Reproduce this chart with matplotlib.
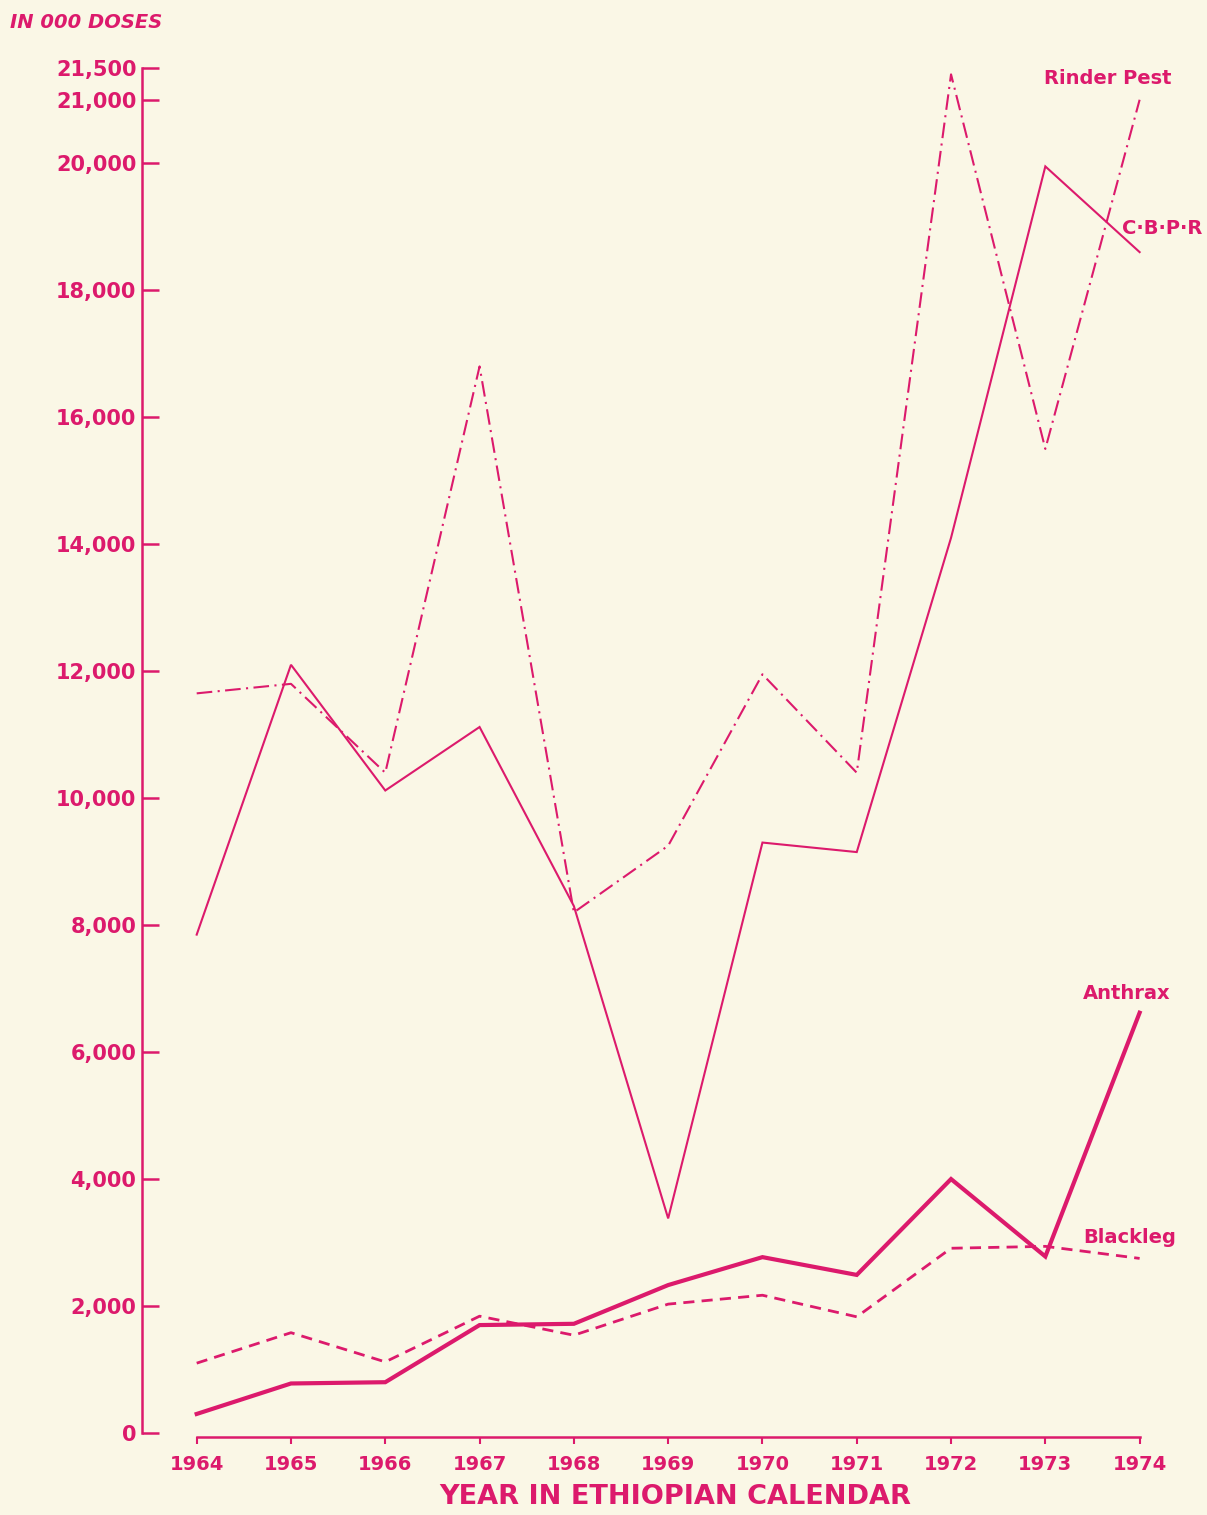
import matplotlib
matplotlib.use("Agg")
import matplotlib.pyplot as plt

# vaccine production, in thousands of doses
years = [1964, 1965, 1966, 1967, 1968, 1969, 1970, 1971, 1972, 1973, 1974]
rinder_pest = [11650, 11800, 10400, 16800, 8200, 9250, 11950, 10400, 21400, 15500, 21000]
cbpp = [7850, 12100, 10120, 11120, 8300, 3380, 9300, 9150, 14100, 19950, 18600]
anthrax = [300, 780, 800, 1700, 1720, 2330, 2770, 2490, 4000, 2780, 6620]
blackleg = [1100, 1580, 1120, 1840, 1540, 2030, 2170, 1830, 2910, 2940, 2750]

ytick_vals = [0, 2000, 4000, 6000, 8000, 10000, 12000, 14000, 16000, 18000, 20000, 21000, 21500]
ytick_labels = ["0", "2,000", "4,000", "6,000", "8,000", "10,000", "12,000", "14,000",
                "16,000", "18,000", "20,000", "21,000", "21,500"]

INK = "#dc1a6c"
PAPER = "#faf7e6"

plt.rcParams.update({"font.family": "DejaVu Sans", "font.weight": "bold"})

fig = plt.figure(figsize=(12.07, 15.15), dpi=100, facecolor=PAPER)
ax = fig.add_axes([142 / 1207, 82 / 1515, (1150 - 142) / 1207, 1365 / 1515])
ax.set_facecolor(PAPER)

ax.plot(years, rinder_pest, color=INK, lw=1.5, linestyle=(0, (7.5, 2.6, 1, 2.6)))
ax.plot(years, cbpp, color=INK, lw=1.5, solid_joinstyle="miter")
ax.plot(years, anthrax, color=INK, lw=3.0, solid_joinstyle="miter")
ax.plot(years, blackleg, color=INK, lw=2.0, linestyle=(0, (4, 2.6)))

ax.set_xlim(1963.42, 1974.11)
ax.set_ylim(0, 21500)

for s in ("top", "right"):
    ax.spines[s].set_visible(False)
ax.spines["left"].set_color(INK)
ax.spines["left"].set_linewidth(1.8)
ax.spines["bottom"].set_color(INK)
ax.spines["bottom"].set_linewidth(1.8)
ax.spines["bottom"].set_bounds(years[0], years[-1])
ax.spines["bottom"].set_position(("outward", 3))

ax.set_yticks(ytick_vals)
ax.set_yticklabels(ytick_labels)
ax.tick_params(axis="y", direction="in", length=12, width=1.8, color=INK,
               labelcolor=INK, labelsize=15, pad=4)
ax.set_xticks(years)
ax.set_xticklabels([str(y) for y in years])
ax.tick_params(axis="x", direction="out", length=5, width=1.5, color=INK,
               labelcolor=INK, labelsize=14, pad=8)

# series labels next to the line ends
lab = dict(color=INK, fontsize=14, fontweight="bold", ha="center", va="center",
           textcoords="offset points")
ax.annotate("Rinder Pest", xy=(years[-1], rinder_pest[-1]), xytext=(-23, 15), **lab)
ax.annotate("C·B·P·R", xy=(years[-1], cbpp[-1]), xytext=(16, 17), **lab)
ax.annotate("Anthrax", xy=(years[-1], anthrax[-1]), xytext=(-9, 14), **lab)
ax.annotate("Blackleg", xy=(years[-1], blackleg[-1]), xytext=(-7, 15), **lab)

fig.text(10 / 1207, 1 - 22 / 1515, "IN 000 DOSES", color=INK, fontsize=14,
         fontweight="bold", style="italic", ha="left", va="center")
fig.text(675 / 1207, 1 - 1497 / 1515, "YEAR IN ETHIOPIAN CALENDAR", color=INK,
         fontsize=19.5, fontweight="bold", ha="center", va="center")

fig.savefig("out.png", dpi=100, facecolor=PAPER)
